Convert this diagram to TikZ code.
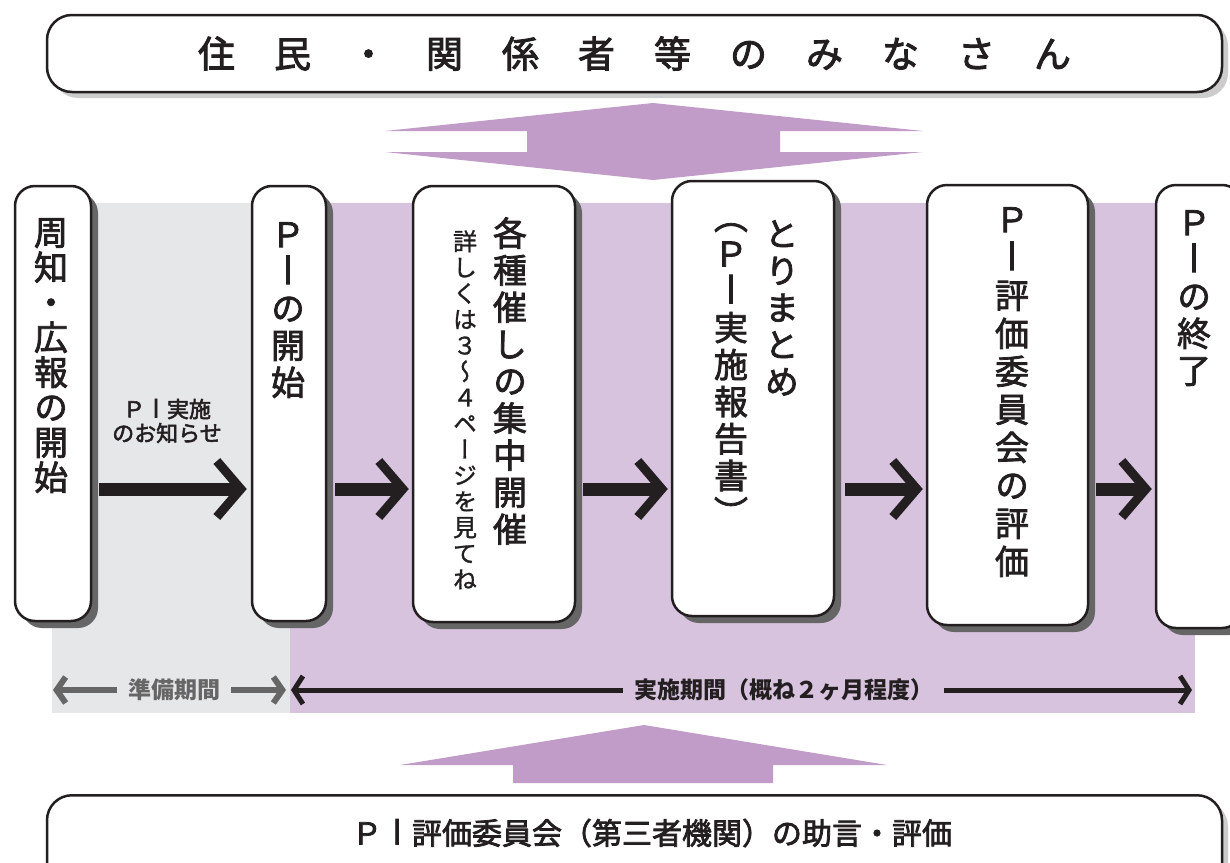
\documentclass[tikz,border=0pt]{standalone}
\usepackage{fontspec}
\usepackage{graphicx}
\usetikzlibrary{arrows.meta,shadows,calc}
\newfontfamily\cjk{Noto Sans CJK JP}
\newfontfamily\cjkm[FakeBold=2.5]{Noto Sans CJK JP}
\newfontfamily\cjkv[RawFeature=+vert,FakeBold=2.2]{Noto Sans CJK JP}
\newfontfamily\cjkvs[RawFeature=+vert,FakeBold=1.2]{Noto Sans CJK JP}
\definecolor{bggray}{HTML}{E6E7E8}
\definecolor{bgpurple}{HTML}{D8C3DF}
\definecolor{arrpurple}{HTML}{C19CC8}
\definecolor{shadowdark}{HTML}{666666}
\definecolor{shadowlight}{HTML}{CCCCCC}
\definecolor{inkblack}{HTML}{231F20}
\definecolor{inkgray}{HTML}{666666}
\newcommand\gapT{\hspace{39pt}}
\newcommand\barI{\makebox[1em]{\scalebox{1}[1.15]{I}}}
\begin{document}
\begin{tikzpicture}[x=1pt,y=-1pt,
  banner/.style={draw=inkblack, line width=2.5pt, fill=white, rounded corners=25pt, inner sep=0pt,
    general shadow={shadow xshift=6pt, shadow yshift=-6pt, fill=shadowlight}},
  stagebox/.style={draw=inkblack, line width=2.5pt, fill=white, rounded corners=20pt, inner sep=0pt,
    general shadow={shadow xshift=7pt, shadow yshift=-7pt, fill=shadowdark}},
  vtext/.style={font=\cjkv\fontsize{34}{37}\selectfont, align=center, inner sep=0pt, anchor=north, text=inkblack},
  vsmall/.style={font=\cjkvs\fontsize{24}{26}\selectfont, align=center, inner sep=0pt, anchor=north, text=inkblack},
  conn/.style={draw=inkblack, line width=13pt, -{Straight Barb[length=24pt,width=56pt,line width=9pt]}},
  pgray/.style={draw=inkgray, line width=6pt, {Straight Barb[length=9pt,width=26pt,line width=6pt]}-{Straight Barb[length=9pt,width=26pt,line width=6pt]}},
  pblack/.style={draw=inkblack, line width=5pt, {Straight Barb[length=9pt,width=28pt,line width=5pt]}-{Straight Barb[length=9pt,width=28pt,line width=5pt]}},
  plabel/.style={font=\cjk\bfseries\fontsize{23}{23}\selectfont, inner xsep=11pt, inner ysep=2pt}
]
\useasboundingbox (0,0) rectangle (1230,862);
\clip (0,0) rectangle (1230,862);
\fill[white] (0,0) rectangle (1230,862);

% period backgrounds
\fill[bggray] (52,203) rectangle (290,713);
\fill[bgpurple] (290,203) rectangle (1195,713);

% top banner
\node[banner, minimum width=1175pt, minimum height=77pt,
  font=\cjkm\fontsize{37}{37}\selectfont, text=inkblack] (top) at (634.5,53.5)
  {住\gapT 民\gapT ・\gapT 関\gapT 係\gapT 者\gapT 等\gapT の\gapT み\gapT な\gapT さ\gapT ん};

% double arrow
\fill[arrpurple] (653,103) -- (923,131) -- (780,131) -- (780,152) -- (923,152) -- (653,180)
  -- (385,152) -- (527,152) -- (527,131) -- (385,131) -- cycle;

% bottom up arrow
\fill[arrpurple] (644,725) -- (887,765) -- (773,765) -- (773,783) -- (513,783) -- (513,765) -- (400,765) -- cycle;

% bottom banner
\node[banner, minimum width=1175pt, minimum height=120pt, anchor=north] (bottom) at (634.5,794) {};
\node[font=\cjkm\fontsize{30}{30}\selectfont, text=inkblack, inner sep=0pt] (bottomtext) at (652,833)
  {Ｐ\barI 評価委員会（第三者機関）の助言・評価};

% stage boxes
\node[stagebox, minimum width=76pt, minimum height=435pt] (b1) at (53,403.5) {};
\node[stagebox, minimum width=74pt, minimum height=435pt] (b2) at (289,403.5) {};
\node[stagebox, minimum width=162pt, minimum height=436pt] (b3) at (494,404) {};
\node[stagebox, minimum width=162pt, minimum height=435pt] (b4) at (753,398.5) {};
\node[stagebox, minimum width=161pt, minimum height=440pt] (b5) at (1007.5,405) {};
\node[stagebox, minimum width=86pt, minimum height=443pt] (b6) at (1199,406.5) {};

% box texts
\node[vtext, font=\cjkv\fontsize{34}{35}\selectfont] (t1) at (51,218) {周\\知\\・\\広\\報\\の\\開\\始};
\node[vtext] (t2) at (288,222) {Ｐ\\\barI\\の\\開\\始};
\node[vtext] (t3) at (510,217) {各\\種\\催\\し\\の\\集\\中\\開\\催};
\node[vsmall] (t3s) at (465,230) {詳\\し\\く\\は\\３\\〜\\４\\ペ\\ー\\ジ\\を\\見\\て\\ね};
\node[vtext] (t4) at (782,220) {と\\り\\ま\\と\\め};
\node[vtext] (t4s) at (731,223) {（\\Ｐ\\\barI\\実\\施\\報\\告\\書\\）};
\node[vtext, font=\cjkv\fontsize{34}{38}\selectfont] (t5) at (1012,207) {Ｐ\\\barI\\評\\価\\委\\員\\会\\の\\評\\価};
\node[vtext] (t6) at (1194,210) {Ｐ\\\barI\\の\\終\\了};

% connectors
\coordinate (ay) at (0,489);
\draw[conn] ($(b1.east|-ay)+(7,0)$) -- ($(b2.west|-ay)+(-4,0)$);
\draw[conn] ($(b2.east|-ay)+(8,0)$) -- ($(b3.west|-ay)+(-3,0)$);
\draw[conn] ($(b3.east|-ay)+(7,0)$) -- ($(b4.west|-ay)+(-3,0)$);
\draw[conn] ($(b4.east|-ay)+(10,0)$) -- ($(b5.west|-ay)+(-3,0)$);
\draw[conn] ($(b5.east|-ay)+(7,0)$) -- ($(b6.west|-ay)+(-3,0)$);

\node[font=\cjkm\fontsize{22}{24}\selectfont, align=center, text=inkblack, inner sep=0pt] (notice) at (167,421)
  {Ｐ\barI 実施\\のお知らせ};

% period arrows
\coordinate (pl1) at (53,690);
\coordinate (pr1) at (286,690);
\draw[pgray] (pl1) -- node[pos=0.52, plabel, fill=bggray, text=inkgray] (prep) {準備期間} (pr1);
\coordinate (pl2) at (291,690);
\coordinate (pr2) at (1192,690);
\draw[pblack] (pl2) -- node[pos=0.547, plabel, fill=bgpurple, text=inkblack] (impl) {実施期間（概ね２ヶ月程度）} (pr2);
\end{tikzpicture}
\end{document}
